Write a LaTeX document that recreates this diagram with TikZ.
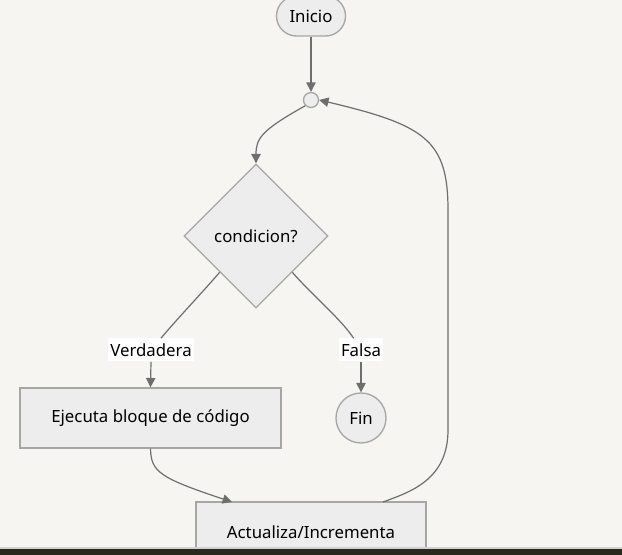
\documentclass[tikz,border=0pt]{standalone}
\usepackage{fontspec}
\setmainfont{Noto Sans}
\usetikzlibrary{shapes.geometric,shapes.misc,arrows.meta}
\definecolor{bgc}{HTML}{F6F5F1}
\definecolor{nodefill}{HTML}{EDEDED}
\definecolor{nodeline}{HTML}{A6A6A6}
\definecolor{edgec}{HTML}{6E6E6E}
\definecolor{stripc}{HTML}{2A2A1C}
\definecolor{stripline}{HTML}{D2D2D2}
\tikzset{
  box/.style={draw=nodeline, fill=nodefill, line width=1pt, inner sep=0pt, font=\fontsize{12.6pt}{15pt}\selectfont},
  stadium/.style={box, rounded rectangle, minimum width=69*0.75pt, minimum height=40*0.75pt},
  procbox/.style={box, rectangle, minimum height=60*0.75pt},
  junction/.style={draw=nodeline, fill=nodefill, line width=1pt, circle, minimum size=15*0.75pt, inner sep=0pt},
  decision/.style={box, diamond, minimum width=144*0.75pt, minimum height=144*0.75pt, aspect=1},
  endnode/.style={box, circle, minimum size=50*0.75pt},
  elabel/.style={fill=white, inner xsep=1.5pt, inner ysep=0pt, minimum height=23*0.75pt, font=\fontsize{12.6pt}{15pt}\selectfont},
  conn/.style={draw=edgec, line width=0.9pt},
  arr/.style={conn, -{Triangle[length=7pt,width=7pt]}},
}
\begin{document}
\begin{tikzpicture}[x=0.75pt,y=-0.75pt]
\path[use as bounding box, fill=bgc] (0,0) rectangle (622,555);
\begin{scope}
\clip (0,0) rectangle (622,548);
\node[stadium] (inicio) at (311,16) {Inicio};
\node[junction] (j) at (311,100) {};
\node[decision] (cond) at (256,236) {condicion?};
\node[elabel] (verd) at (151,350) {Verdadera};
\node[elabel] (fals) at (361,350) {Falsa};
\node[procbox, minimum width=261*0.75pt] (ejec) at (150.5,418) {Ejecuta bloque de código};
\node[endnode] (fin) at (361,418) {Fin};
\node[procbox, minimum width=230*0.75pt] (act) at (311,532) {Actualiza/Incrementa};
\coordinate (actout) at (383,502);
\coordinate (actin) at (232,502);
\draw[arr] (inicio.south) -- (j.north);
\draw[arr] (j.south west) .. controls (262,130) and (256,138) .. (cond.north);
\draw[conn] (cond.south west) .. controls (200,295) and (178,318) .. (verd);
\draw[arr] (verd.south) -- (ejec.north);
\draw[conn] (cond.south east) .. controls (312,295) and (342,320) .. (fals);
\draw[arr] (fals.south) -- (fin.north);
\draw[arr] (ejec.south) .. controls (151,472) and (160,478) .. (actin);
\draw[arr] (actout) .. controls (410,492) and (448,480) .. (448,430) -- (448,210) .. controls (448,140) and (425,125) .. (j.east);
\end{scope}
\fill[stripline] (0,547) rectangle (622,549.5);
\fill[stripc] (0,549.5) rectangle (622,555);
\end{tikzpicture}
\end{document}
